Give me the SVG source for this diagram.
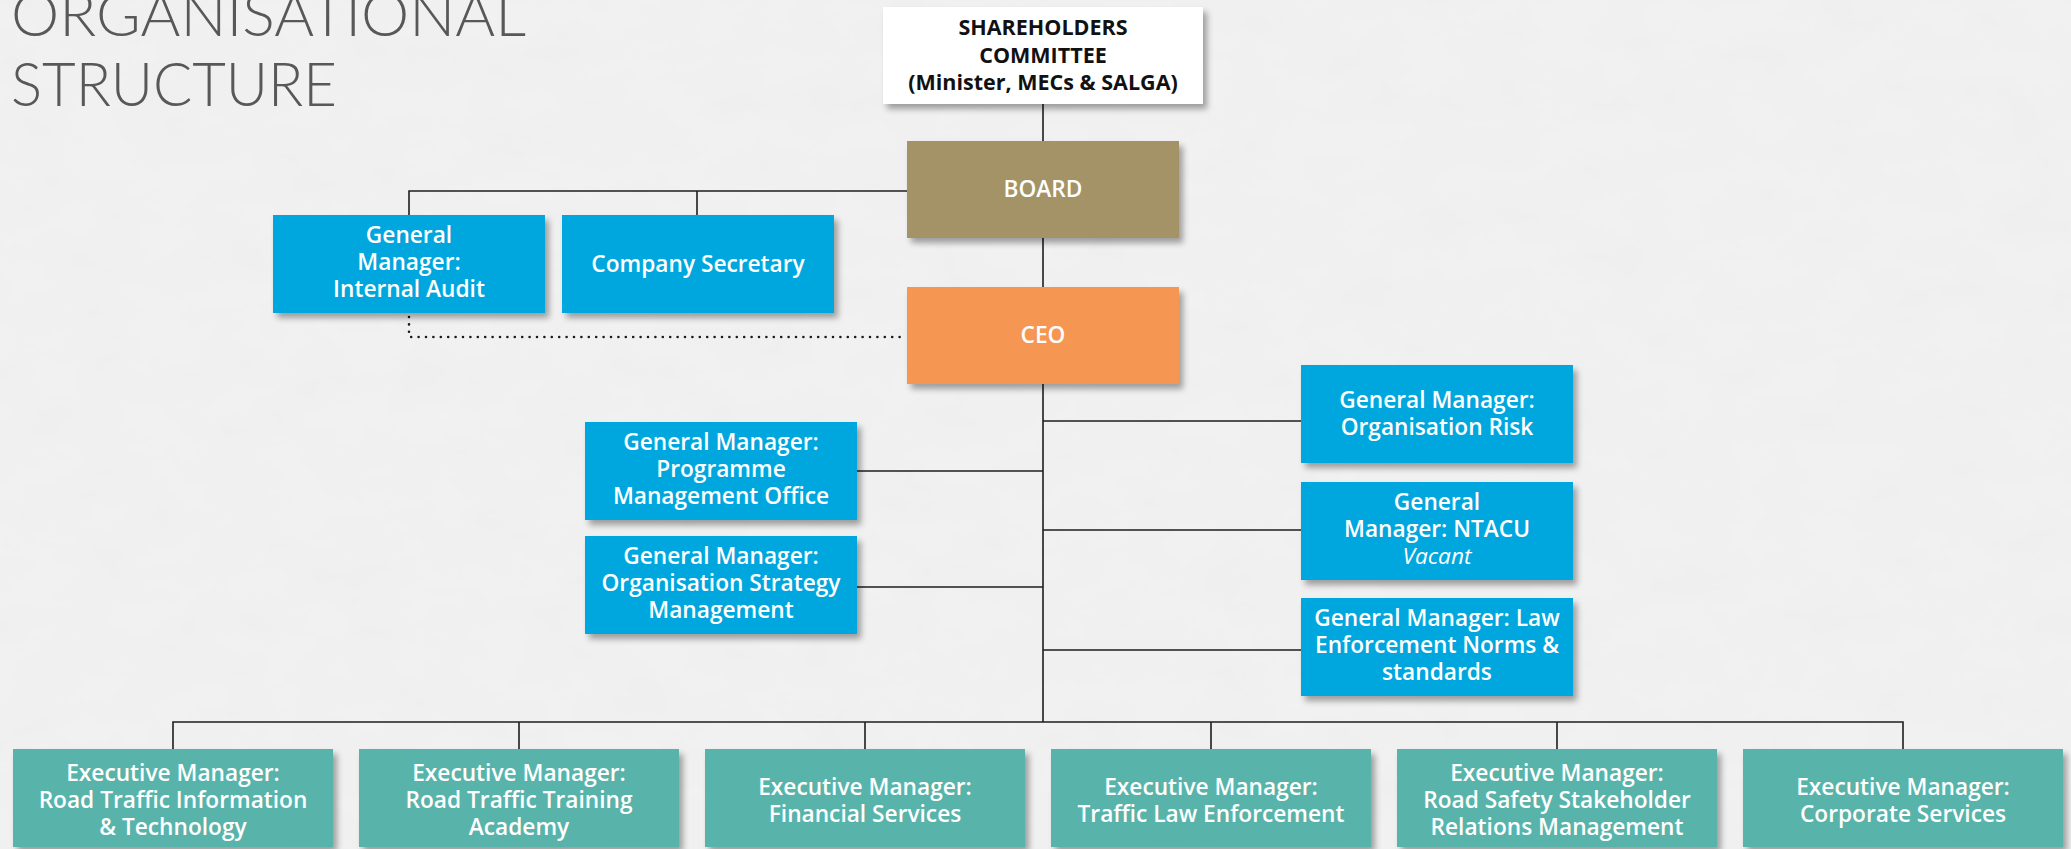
<svg xmlns="http://www.w3.org/2000/svg" width="2071" height="849" viewBox="0 0 2071 849">
  <defs>
    <filter id="paper" x="0" y="0" width="100%" height="100%">
      <feTurbulence type="fractalNoise" baseFrequency="0.015 0.025" numOctaves="5" seed="7" result="n"/>
      <feColorMatrix in="n" type="matrix" values="0 0 0 0 0.55  0 0 0 0 0.55  0 0 0 0 0.55  0 0 0 0.08 0" result="g"/>
      <feComposite in="g" in2="SourceGraphic" operator="over"/>
    </filter>
    <filter id="shadow" x="-10%" y="-10%" width="130%" height="140%">
      <feGaussianBlur in="SourceAlpha" stdDeviation="3"/>
      <feOffset dx="4" dy="5" result="b"/>
      <feComponentTransfer><feFuncA type="linear" slope="0.35"/></feComponentTransfer>
      <feMerge><feMergeNode/><feMergeNode in="SourceGraphic"/></feMerge>
    </filter>
    <style>
      .title { font-family: Lato, "Open Sans", sans-serif; font-weight: 300; font-size: 61px; fill: #58585a; }
      .box { filter: url(#shadow); }
      .blue { fill: #00a7de; }
      .teal { fill: #58b4aa; }
      .board { fill: #a39366; }
      .ceo { fill: #f69653; }
      .white { fill: #ffffff; }
      .lbl { font-family: "Open Sans", "Liberation Sans", sans-serif; font-weight: 600; font-size: 22.7px; fill: #ffffff; text-anchor: middle; }
      .dark { fill: #111111; font-weight: 700; font-size: 21.5px; }
      .it { font-style: italic; font-weight: 400; }
      .ln { stroke: #1e1e1e; stroke-width: 1.6; fill: none; }
      .dot { stroke: #1a1a1a; stroke-width: 2.6; stroke-linecap: round; stroke-dasharray: 0 7.4; fill: none; }
    </style>
  </defs>

  <!-- paper background -->
  <rect width="2071" height="849" fill="#f2f2f2" filter="url(#paper)"/>

  <text class="title" x="11" y="36" textLength="515" lengthAdjust="spacingAndGlyphs">ORGANISATIONAL</text>
  <text class="title" x="11" y="106" textLength="326" lengthAdjust="spacingAndGlyphs">STRUCTURE</text>

  <!-- connectors -->
  <g id="connectors">
    <path class="ln" d="M1043 104 V141 M1043 238 V287"/>
    <path class="ln" d="M907 191 H409 V215 M697 191 V215"/>
    <path class="ln" d="M1043 384 V722"/>
    <path class="ln" d="M1043 421 H1301 M1043 530 H1301 M1043 650 H1301"/>
    <path class="ln" d="M1043 471 H857 M1043 587 H857"/>
    <path class="ln" d="M173 749 V722 H1903 V749 M519 722 V749 M865 722 V749 M1211 722 V749 M1557 722 V749"/>
    <path class="dot" d="M409 317 V337 H905"/>
  </g>

  <!-- governance -->
  <g id="shareholders">
    <rect class="box white" x="883" y="7" width="320" height="97"/>
    <text class="lbl dark"><tspan x="1043" y="35">SHAREHOLDERS</tspan><tspan x="1043" y="62.5">COMMITTEE</tspan><tspan x="1043" y="90">(Minister, MECs &amp; SALGA)</tspan></text>
  </g>
  <g id="board">
    <rect class="box board" x="907" y="141" width="272" height="97"/>
    <text class="lbl" x="1043" y="197">BOARD</text>
  </g>
  <g id="ceo">
    <rect class="box ceo" x="907" y="287" width="272" height="97"/>
    <text class="lbl" x="1043" y="343">CEO</text>
  </g>

  <!-- board-level offices -->
  <g id="internal-audit">
    <rect class="box blue" x="273" y="215" width="272" height="98"/>
    <text class="lbl"><tspan x="409" y="243">General</tspan><tspan x="409" y="270">Manager:</tspan><tspan x="409" y="297">Internal Audit</tspan></text>
  </g>
  <g id="company-secretary">
    <rect class="box blue" x="562" y="215" width="272" height="98"/>
    <text class="lbl" x="698" y="271.5">Company Secretary</text>
  </g>

  <!-- CEO office, left -->
  <g id="pmo">
    <rect class="box blue" x="585" y="422" width="272" height="98"/>
    <text class="lbl"><tspan x="721" y="450">General Manager:</tspan><tspan x="721" y="477">Programme</tspan><tspan x="721" y="504">Management Office</tspan></text>
  </g>
  <g id="strategy">
    <rect class="box blue" x="585" y="536" width="272" height="98"/>
    <text class="lbl"><tspan x="721" y="564">General Manager:</tspan><tspan x="721" y="591">Organisation Strategy</tspan><tspan x="721" y="618">Management</tspan></text>
  </g>

  <!-- CEO office, right -->
  <g id="org-risk">
    <rect class="box blue" x="1301" y="365" width="272" height="98"/>
    <text class="lbl"><tspan x="1437" y="408">General Manager:</tspan><tspan x="1437" y="435">Organisation Risk</tspan></text>
  </g>
  <g id="ntacu">
    <rect class="box blue" x="1301" y="482" width="272" height="98"/>
    <text class="lbl"><tspan x="1437" y="510">General</tspan><tspan x="1437" y="537">Manager: NTACU</tspan><tspan class="it" x="1437" y="564">Vacant</tspan></text>
  </g>
  <g id="law-norms">
    <rect class="box blue" x="1301" y="598" width="272" height="98"/>
    <text class="lbl"><tspan x="1437" y="626">General Manager: Law</tspan><tspan x="1437" y="653">Enforcement Norms &amp;</tspan><tspan x="1437" y="680">standards</tspan></text>
  </g>

  <!-- executive managers -->
  <g id="em-rtit">
    <rect class="box teal" x="13" y="749" width="320" height="98"/>
    <text class="lbl"><tspan x="173" y="781">Executive Manager:</tspan><tspan x="173" y="808">Road Traffic Information</tspan><tspan x="173" y="835">&amp; Technology</tspan></text>
  </g>
  <g id="em-rtta">
    <rect class="box teal" x="359" y="749" width="320" height="98"/>
    <text class="lbl"><tspan x="519" y="781">Executive Manager:</tspan><tspan x="519" y="808">Road Traffic Training</tspan><tspan x="519" y="835">Academy</tspan></text>
  </g>
  <g id="em-finance">
    <rect class="box teal" x="705" y="749" width="320" height="98"/>
    <text class="lbl"><tspan x="865" y="795">Executive Manager:</tspan><tspan x="865" y="822">Financial Services</tspan></text>
  </g>
  <g id="em-tle">
    <rect class="box teal" x="1051" y="749" width="320" height="98"/>
    <text class="lbl"><tspan x="1211" y="795">Executive Manager:</tspan><tspan x="1211" y="822">Traffic Law Enforcement</tspan></text>
  </g>
  <g id="em-rssrm">
    <rect class="box teal" x="1397" y="749" width="320" height="98"/>
    <text class="lbl"><tspan x="1557" y="781">Executive Manager:</tspan><tspan x="1557" y="808">Road Safety Stakeholder</tspan><tspan x="1557" y="835">Relations Management</tspan></text>
  </g>
  <g id="em-corporate">
    <rect class="box teal" x="1743" y="749" width="320" height="98"/>
    <text class="lbl"><tspan x="1903" y="795">Executive Manager:</tspan><tspan x="1903" y="822">Corporate Services</tspan></text>
  </g>
</svg>
